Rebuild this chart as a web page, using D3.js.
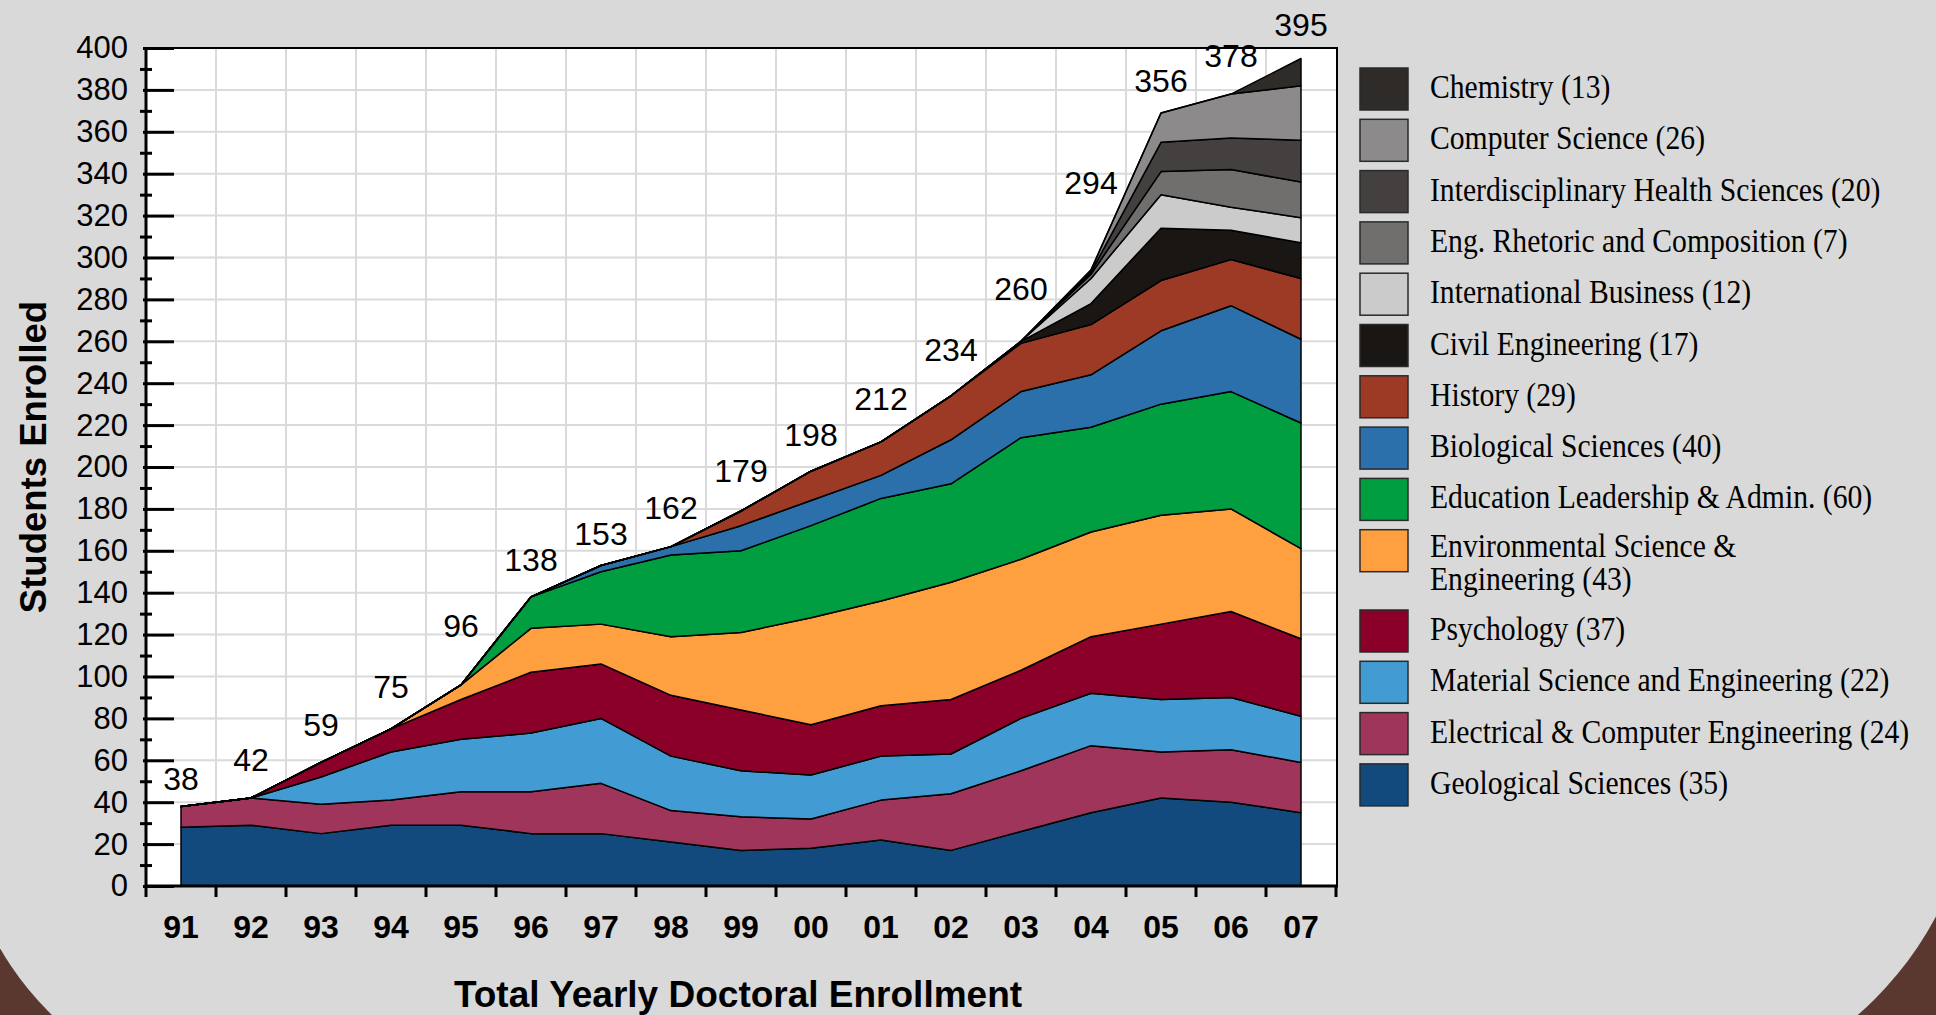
<!DOCTYPE html>
<html>
<head>
<meta charset="utf-8">
<title>Total Yearly Doctoral Enrollment</title>
<script src="https://cdn.jsdelivr.net/npm/d3@7"></script>
<style>
  body { margin: 0; background: #5b382f; }
  svg { display: block; }
</style>
</head>
<body>
<svg id="chart"></svg>
<script>
// ---- data ----
const years = ["91","92","93","94","95","96","97","98","99","00","01","02","03","04","05","06","07"];
const totalLabels = [38, 42, 59, 75, 96, 138, 153, 162, 179, 198, 212, 234, 260, 294, 356, 378, 395];

// series, bottom of the stack first
const geological   = [28, 29, 25, 29, 29, 25, 25, 21, 17, 18, 22, 17, 26, 35, 42, 40, 35];
const electrical   = [10, 13, 14, 12, 16, 20, 24, 15, 16, 14, 19, 27, 29, 32, 22, 25, 24];
const material     = [ 0,  0, 13, 23, 25, 28, 31, 26, 22, 21, 21, 19, 25, 25, 25, 25, 22];
const psychology   = [ 0,  0,  7, 11, 19, 29, 26, 29, 29, 24, 24, 26, 23, 27, 36, 41, 37];
const environment  = [ 0,  0,  0,  0,  7, 21, 19, 28, 37, 51, 50, 56, 53, 50, 52, 49, 43];
const education    = [ 0,  0,  0,  0,  0, 15, 25, 39, 39, 44, 49, 47, 58, 50, 53, 56, 60];
const biological   = [ 0,  0,  0,  0,  0,  0,  3,  4, 12, 12, 11, 21, 22, 25, 35, 41, 40];
const history      = [ 0,  0,  0,  0,  0,  0,  0,  0,  7, 14, 16, 21, 23, 24, 24, 22, 29];
const civil        = [ 0,  0,  0,  0,  0,  0,  0,  0,  0,  0,  0,  0,  1, 10, 25, 14, 17];
const intlBusiness = [ 0,  0,  0,  0,  0,  0,  0,  0,  0,  0,  0,  0,  0, 12, 16, 11, 12];
const rhetoric     = [ 0,  0,  0,  0,  0,  0,  0,  0,  0,  0,  0,  0,  0,  2, 11, 18, 17];
const healthSci    = [ 0,  0,  0,  0,  0,  0,  0,  0,  0,  0,  0,  0,  0,  1, 14, 15, 20];
const compSci      = [ 0,  0,  0,  0,  0,  0,  0,  0,  0,  0,  0,  0,  0,  1, 14, 21, 26];
const chemistry    = [ 0,  0,  0,  0,  0,  0,  0,  0,  0,  0,  0,  0,  0,  0,  0,  0, 13];

const seriesKeys = ["geo","elec","mat","psych","env","edu","bio","hist","civil","intl","rhet","ihs","cs","chem"];
const seriesValues = [geological, electrical, material, psychology, environment, education,
                      biological, history, civil, intlBusiness, rhetoric, healthSci, compSci, chemistry];
const seriesColors = ["#134a7d","#a0355c","#429bd2","#8b0029","#ffa040","#009e40",
                      "#2b70aa","#9c3a26","#1a1613","#cbcbcb","#706f6d","#444040","#8c8a8a","#2e2b29"];
const legendLabels = [
    ["Geological Sciences (35)"],
    ["Electrical & Computer Engineering (24)"],
    ["Material Science and Engineering (22)"],
    ["Psychology (37)"],
    ["Environmental Science &", "Engineering (43)"],
    ["Education Leadership & Admin. (60)"],
    ["Biological Sciences (40)"],
    ["History (29)"],
    ["Civil Engineering (17)"],
    ["International Business (12)"],
    ["Eng. Rhetoric and Composition (7)"],
    ["Interdisciplinary Health Sciences (20)"],
    ["Computer Science (26)"],
    ["Chemistry (13)"]
];
const yTicks = d3.range(0, 401, 20);
const yMinorTicks = d3.range(10, 400, 20);

// ---- layout ----
const width = 1936, height = 1015;
const plot = {left: 146, right: 1336, top: 48, bottom: 886};

const svg = d3.select("#chart")
                .attr("width", width)
                .attr("height", height);

// brown backdrop with the big grey panel on top
svg.append("rect")
    .attr("width", width)
    .attr("height", height)
    .attr("fill", "#5b382f");

const rl = 302, rr = 345, pl = -40, pr = 1976, pb = 1100;
svg.append("path")
    .attr("d", `M${pl},-20 H${pr} V${pb - rr} A${rr},${rr} 0 0 1 ${pr - rr},${pb} H${pl + rl} A${rl},${rl} 0 0 1 ${pl},${pb - rl} Z`)
    .attr("fill", "#d9d9d9");

const x = d3.scaleBand()
            .domain(years)
            .range([plot.left, plot.right]);

const y = d3.scaleLinear()
            .domain([0, 400])
            .range([plot.bottom, plot.top]);

const cx = yr => x(yr) + x.bandwidth() / 2;

// plot background
svg.append("rect")
    .attr("x", plot.left)
    .attr("y", plot.top)
    .attr("width", plot.right - plot.left)
    .attr("height", plot.bottom - plot.top)
    .attr("fill", "#ffffff");

// grid
const grid = svg.append("g").attr("stroke", "#dadada").attr("stroke-width", 2);
grid.selectAll(".hgrid")
    .data(yTicks.slice(1, -1))
    .enter()
    .append("line")
    .attr("x1", plot.left)
    .attr("x2", plot.right)
    .attr("y1", d => y(d))
    .attr("y2", d => y(d));
grid.selectAll(".vgrid")
    .data(years.slice(1))
    .enter()
    .append("line")
    .attr("x1", d => x(d))
    .attr("x2", d => x(d))
    .attr("y1", plot.top)
    .attr("y2", plot.bottom);

// stacked areas
const rows = years.map((yr, i) => {
    const row = {year: yr};
    seriesKeys.forEach((k, j) => row[k] = seriesValues[j][i]);
    return row;
});
const stacked = d3.stack().keys(seriesKeys)(rows);

const area = d3.area()
                .x(d => cx(d.data.year))
                .y0(d => y(d[0]))
                .y1(d => y(d[1]));

svg.append("g")
    .selectAll("path")
    .data(stacked)
    .enter()
    .append("path")
    .attr("d", area)
    .attr("fill", (s, i) => seriesColors[i])
    .attr("stroke", "#000")
    .attr("stroke-width", 1.5)
    .attr("stroke-linejoin", "round");

// frame
svg.append("rect")
    .attr("x", plot.left)
    .attr("y", plot.top)
    .attr("width", plot.right - plot.left + 1)
    .attr("height", plot.bottom - plot.top)
    .attr("fill", "none")
    .attr("stroke", "#000")
    .attr("stroke-width", 2);
svg.append("line")
    .attr("x1", plot.left).attr("x2", plot.left)
    .attr("y1", plot.top).attr("y2", plot.bottom)
    .attr("stroke", "#000").attr("stroke-width", 3);
svg.append("line")
    .attr("x1", plot.left).attr("x2", plot.right + 2)
    .attr("y1", plot.bottom).attr("y2", plot.bottom)
    .attr("stroke", "#000").attr("stroke-width", 3);

// y axis: long inner ticks with labels, short minor ticks across the line
svg.append("g")
    .attr("transform", `translate(${plot.left - 3},0)`)
    .call(d3.axisLeft(y).tickValues(yTicks).tickSize(-31).tickPadding(15))
    .call(g => g.select(".domain").remove())
    .call(g => g.selectAll(".tick line").attr("stroke", "#000").attr("stroke-width", 3))
    .call(g => g.selectAll(".tick text")
                .attr("font-family", "Liberation Sans, Arial, sans-serif")
                .attr("font-size", 31)
                .attr("fill", "#000"));

svg.append("g")
    .attr("transform", `translate(${plot.left + 6},0)`)
    .call(d3.axisLeft(y).tickValues(yMinorTicks).tickSize(12).tickFormat(""))
    .call(g => g.select(".domain").remove())
    .call(g => g.selectAll(".tick line").attr("stroke", "#000").attr("stroke-width", 3));

// x axis: labels in band centres, ticks on band edges
svg.append("g")
    .attr("transform", `translate(0,${plot.bottom})`)
    .call(d3.axisBottom(x).tickSize(0).tickPadding(29))
    .call(g => g.select(".domain").remove())
    .call(g => g.selectAll(".tick text")
                .attr("font-family", "Liberation Sans, Arial, sans-serif")
                .attr("font-weight", "bold")
                .attr("font-size", 32)
                .attr("fill", "#000"));

svg.append("g")
    .selectAll("line")
    .data(d3.range(years.length + 1))
    .enter()
    .append("line")
    .attr("x1", i => plot.left + i * x.step())
    .attr("x2", i => plot.left + i * x.step())
    .attr("y1", plot.bottom)
    .attr("y2", plot.bottom + 11)
    .attr("stroke", "#000")
    .attr("stroke-width", 3);

// yearly totals: sit just above the stack outline under the right half of the label
const tops = stacked[stacked.length - 1].map(d => d[1]);
const labelBase = i => {
    const next = i < tops.length - 1 ? tops[i] + (tops[i + 1] - tops[i]) * 0.4 : tops[i];
    return Math.max(tops[i], next);
};
svg.append("g")
    .selectAll("text")
    .data(totalLabels)
    .enter()
    .append("text")
    .attr("x", (d, i) => cx(years[i]))
    .attr("y", (d, i) => y(labelBase(i)) - (i === tops.length - 1 ? 22 : 13))
    .attr("text-anchor", "middle")
    .attr("font-family", "Liberation Sans, Arial, sans-serif")
    .attr("font-size", 32)
    .attr("fill", "#000")
    .text(d => d);

// axis titles
svg.append("text")
    .attr("transform", `translate(46,457) rotate(-90)`)
    .attr("text-anchor", "middle")
    .attr("font-family", "Liberation Sans, Arial, sans-serif")
    .attr("font-weight", "bold")
    .attr("font-size", 36.5)
    .attr("fill", "#000")
    .text("Students Enrolled");

svg.append("text")
    .attr("x", 738)
    .attr("y", 1007)
    .attr("text-anchor", "middle")
    .attr("font-family", "Liberation Sans, Arial, sans-serif")
    .attr("font-weight", "bold")
    .attr("font-size", 37)
    .attr("fill", "#000")
    .text("Total Yearly Doctoral Enrollment");

// legend, top entry = top of stack
const legendItems = seriesColors.map((c, i) => ({color: c, lines: legendLabels[i]})).reverse();
const envRow = legendItems.findIndex(d => d.lines.length > 1);
const rowTop = i => 68 + 51.3 * i + (i > envRow ? 29 : 0);

const legend = svg.append("g").attr("id", "legend");
const item = legend.selectAll("g")
                    .data(legendItems)
                    .enter()
                    .append("g")
                    .attr("transform", (d, i) => `translate(1360,${rowTop(i)})`);

item.append("rect")
    .attr("width", 48)
    .attr("height", 42)
    .attr("fill", d => d.color)
    .attr("stroke", "#2a2a2a")
    .attr("stroke-width", 1.5);

// one text per line so wrapped entries stay separate
item.each(function(d) {
    const g = d3.select(this);
    d.lines.forEach((line, j) => {
        g.append("text")
            .attr("transform", `translate(70,${(d.lines.length > 1 ? 27 : 30) + j * 33}) scale(0.86,1)`)
            .attr("font-family", "Liberation Serif, Times New Roman, serif")
            .attr("font-size", 34.5)
            .attr("fill", "#000")
            .text(line);
    });
});
</script>
</body>
</html>
